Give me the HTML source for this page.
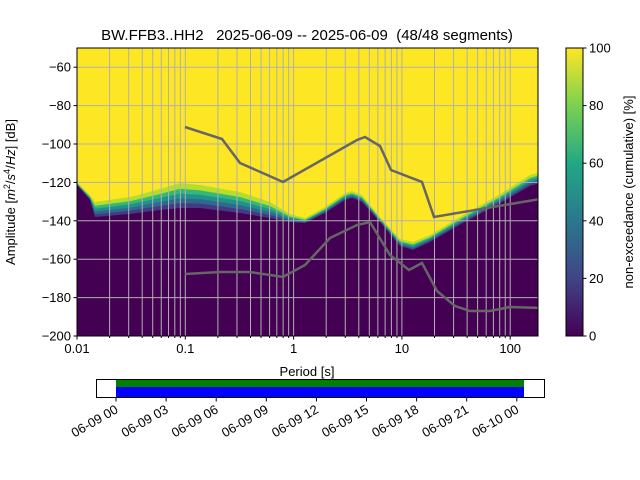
<!DOCTYPE html>
<html><head><meta charset="utf-8"><style>body{margin:0;background:#fff}svg{display:block;font-family:"Liberation Sans","DejaVu Sans",sans-serif}</style></head>
<body>
<svg id="s" width="640" height="480" xmlns="http://www.w3.org/2000/svg">
<defs><clipPath id="c"><rect x="77" y="48" width="461" height="288"/></clipPath>
<linearGradient id="vir" x1="0" y1="1" x2="0" y2="0">
<stop offset="0" stop-color="#440154"/><stop offset="0.2" stop-color="#414487"/><stop offset="0.4" stop-color="#2a788e"/><stop offset="0.6" stop-color="#22a884"/><stop offset="0.8" stop-color="#7ad151"/><stop offset="1" stop-color="#fde725"/></linearGradient></defs>
<g id="plot" clip-path="url(#c)"></g>
<rect x="77" y="48" width="461" height="288" fill="none" stroke="#000" stroke-width="1"/>
<g id="ticks" font-size="13"></g>
<text x="307" y="40" font-size="15" text-anchor="middle" xml:space="preserve">BW.FFB3..HH2   2025-06-09 -- 2025-06-09  (48/48 segments)</text>
<text x="307" y="376" font-size="13" text-anchor="middle">Period [s]</text>
<text transform="translate(15,192) rotate(-90)" font-size="13" text-anchor="middle">Amplitude [<tspan font-style="italic">m</tspan><tspan font-size="9" dy="-5">2</tspan><tspan dy="5">/</tspan><tspan font-style="italic">s</tspan><tspan font-size="9" dy="-5">4</tspan><tspan dy="5">/</tspan><tspan font-style="italic">Hz</tspan>] [dB]</text>
<rect x="566" y="48" width="17" height="288" fill="url(#vir)" stroke="#000"/>
<text transform="translate(633,192) rotate(-90)" font-size="13" text-anchor="middle">non-exceedance (cumulative) [%]</text>
<rect x="116" y="379" width="408" height="8" fill="#008000"/>
<rect x="116" y="387" width="408" height="10" fill="#0000ff"/>
<rect x="96.5" y="379.5" width="448" height="18" fill="none" stroke="#000"/>
<g id="dates" font-size="13"></g>
</svg>
<script>
var NS="http://www.w3.org/2000/svg";
function el(p,t,a,txt){var e=document.createElementNS(NS,t);for(var k in a)e.setAttribute(k,a[k]);if(txt!==undefined)e.textContent=txt;p.appendChild(e);return e;}
var plot=document.getElementById('plot'),ticks=document.getElementById('ticks'),dates=document.getElementById('dates');
function X(p){return 77+(Math.log10(p)+2)*108.3;}
el(plot,'rect',{x:77,y:48,width:489,height:288,fill:'#fde725'});
var pts=[[77,183,185],[90,196,200],[95,203,217],[130,198,214],[160,190,210],[180,184,208],[200,186,208],[240,193,213],[270,203,218],[290,215,222],[305,219,223],[325,208,213],[345,194,200],[352,192,198],[362,196,202],[380,218,222],[400,240,246],[413,243,250],[430,236,242],[463,216,223],[497,197,205],[530,176,186],[540,173,183]];
var cols=['#b5de2b','#35b779','#21918c','#31688e','#443983','#440154'];
cols.forEach(function(c,i){var f=i/5;var s='';pts.forEach(function(p){s+=p[0]+','+(p[1]+f*(p[2]-p[1])+ (i==0?-1:0))+' ';});s+='540,336 77,336';el(plot,'polygon',{points:s,fill:c});});
for(var d=-2;d<=2;d++)for(var m=1;m<10;m++){var p=m*Math.pow(10,d);if(p>190)break;var x=X(p);el(plot,'line',{x1:x,x2:x,y1:48,y2:336,stroke:'#b0b0b0','stroke-width':1});
 el(ticks,'line',{x1:x,x2:x,y1:336,y2:m==1?339.5:338,stroke:'#000'});}
for(var v=-180;v<=-60;v+=20){var y=336-(v+200)*1.92;el(plot,'line',{x1:77,x2:538,y1:y,y2:y,stroke:'#b0b0b0'});}
for(var v=-200;v<=-60;v+=20){var y=336-(v+200)*1.92;el(ticks,'line',{x1:73.5,x2:77,y1:y,y2:y,stroke:'#000'});el(ticks,'text',{x:71,y:y+4.5,'text-anchor':'end'},'\u2212'+(-v));}
['0.01','0.1','1','10','100'].forEach(function(t,i){el(ticks,'text',{x:X(Math.pow(10,i-2)),y:353,'text-anchor':'middle'},t);});
for(var i=0;i<=5;i++){var y=336-i*57.6;el(ticks,'line',{x1:583,x2:586.5,y1:y,y2:y,stroke:'#000'});el(ticks,'text',{x:589,y:y+4.5},String(i*20));}
var up=[[185,127],[222,139],[240,163],[283,182],[357,140],[365,137],[380,146],[391,170],[422,182],[434,217],[540,199]];
var lo=[[185,274],[220,272],[250,272],[283,277],[305,265],[330,238],[357,225],[370,222],[390,255],[409,270],[422,263],[437,291],[455,306],[470,311],[490,311],[510,307],[540,308]];
[up,lo].forEach(function(a){el(plot,'polyline',{points:a.map(function(p){return p.join(',')}).join(' '),fill:'none',stroke:'#666','stroke-width':2.5});});
var lab=['06-09 00','06-09 03','06-09 06','06-09 09','06-09 12','06-09 15','06-09 18','06-09 21','06-10 00'];
lab.forEach(function(t,i){var x=116+i*50.1;el(dates,'line',{x1:x,x2:x,y1:398,y2:401.5,stroke:'#000'});el(dates,'text',{transform:'translate('+(x+3)+',412) rotate(-30)','text-anchor':'end'},t);});
</script>
</body></html>
